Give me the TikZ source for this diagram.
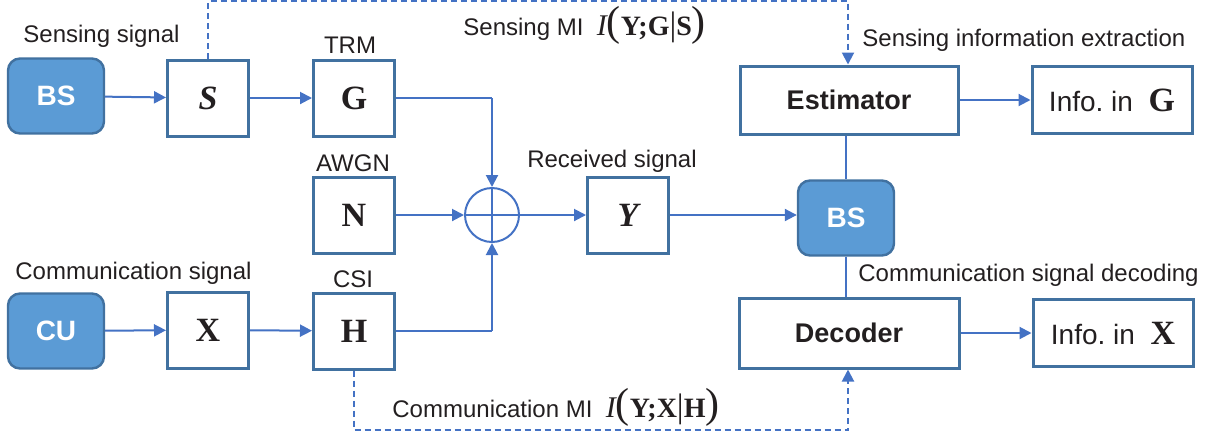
\documentclass[tikz,border=0pt]{standalone}
\usepackage{fontspec}
\setmainfont{Liberation Sans}
\newfontfamily\serif{Liberation Serif}
\usetikzlibrary{arrows.meta,shapes.geometric}
\definecolor{boxc}{RGB}{65,113,160}
\definecolor{linec}{RGB}{68,114,196}
\definecolor{fillc}{RGB}{91,155,213}
\definecolor{txt}{RGB}{35,31,32}
\newcommand{\bigp}[1]{{\fontsize{21}{21}\selectfont #1}}
\begin{document}
\begin{tikzpicture}[x=0.5pt,y=-0.5pt,
  every node/.style={text=txt},
  sbox/.style={draw=boxc,line width=1.5pt,fill=white,minimum width=40.5pt,minimum height=38pt,inner sep=0pt,font=\serif\bfseries\fontsize{17}{17}\selectfont},
  wbox/.style={draw=boxc,line width=1.5pt,fill=white,minimum width=109pt,minimum height=34pt,inner sep=0pt,font=\bfseries\fontsize{13.5}{15}\selectfont},
  ibox/.style={draw=boxc,line width=1.5pt,fill=white,minimum width=80pt,minimum height=33.5pt,inner sep=0pt,font=\fontsize{14}{16}\selectfont},
  ubox/.style={draw=boxc,line width=1.2pt,fill=fillc,rounded corners=6pt,minimum width=48pt,minimum height=37.5pt,inner sep=0pt,text=white,font=\bfseries\fontsize{14}{16}\selectfont},
  lbl/.style={font=\fontsize{12}{14}\selectfont,inner sep=0pt},
  arr/.style={draw=linec,line width=1pt,-{Triangle[length=6pt,width=6pt]}},
  ln/.style={draw=linec,line width=1pt},
  darr/.style={draw=linec,line width=1pt,dash pattern=on 3pt off 2pt,-{Triangle[length=6pt,width=6pt]}}
]
\useasboundingbox (0,0) rectangle (1214,435);
% nodes
\node[ubox] (bsL) at (56,96) {BS};
\node[sbox] (S) at (208,98) {\itshape S};
\node[sbox] (G) at (354,98) {G};
\node[sbox] (N) at (354,215) {N};
\node[ubox] (CU) at (56,331) {CU};
\node[sbox] (X) at (208,330) {X};
\node[sbox] (H) at (354,331) {H};
\node[draw=linec,line width=1pt,circle,minimum size=27pt,inner sep=0pt] (sum) at (492,215) {};
\node[sbox] (Y) at (628,215) {\itshape Y};
\node[ubox] (bsR) at (846,218) {BS};
\node[wbox] (est) at (849,100) {Estimator};
\node[ibox] (ig) at (1112,100) {Info.\ in\ \ {\serif\bfseries\fontsize{17}{17}\selectfont G}};
\node[wbox,minimum width=110pt,minimum height=35pt] (dec) at (849,333) {Decoder};
\node[ibox] (ix) at (1113,333) {Info.\ in\ \ {\serif\bfseries\fontsize{17}{17}\selectfont X}};
% labels
\node[lbl,anchor=west] (l1) at (23,36) {Sensing signal};
\node[lbl] (l2) at (350,45) {TRM};
\node[lbl] (l3) at (353,163) {AWGN};
\node[lbl] (l4) at (353,279) {CSI};
\node[lbl,anchor=west] (l5) at (15,273) {Communication signal};
\node[lbl] (l6) at (612,161) {Received signal};
\node[lbl,anchor=west] (l7) at (862,40) {Sensing information extraction};
\node[lbl,anchor=west] (l8) at (858,275) {Communication signal decoding};
\node[lbl,anchor=west] (l9) at (463,25) {Sensing MI\ \ {\serif\itshape\fontsize{15}{15}\selectfont I}\bigp{\serif(}{\serif\bfseries\fontsize{14}{14}\selectfont Y;G}{\serif\fontsize{17}{17}\selectfont|}{\serif\bfseries\fontsize{14}{14}\selectfont S}\bigp{\serif)}};
\node[lbl,anchor=west] (l10) at (392,407) {Communication MI\ \ {\serif\itshape\fontsize{15}{15}\selectfont I}\bigp{\serif(}{\serif\bfseries\fontsize{14}{14}\selectfont Y;X}{\serif\fontsize{17}{17}\selectfont|}{\serif\bfseries\fontsize{14}{14}\selectfont H}\bigp{\serif)}};
% coordinates
\coordinate (gt) at (492,98);
\coordinate (ht) at (492,331);
\coordinate (d1) at (208,1);
\coordinate (d2) at (848,1);
\coordinate (d3) at (354,430);
\coordinate (d4) at (848,430);
% connectors
\draw[arr] (bsL) -- (S);
\draw[arr] (S) -- (G);
\draw[arr] (CU) -- (X);
\draw[arr] (X) -- (H);
\draw[ln] (G.east) -- (gt);
\draw[arr] (gt) -- (sum.north);
\draw[ln] (H.east |- ht) -- (ht);
\draw[arr] (ht) -- (sum.south);
\draw[arr] (N) -- (sum.west);
\draw[ln] (sum.north) -- (sum.south);
\draw[ln] (sum.west) -- (sum.east);
\draw[arr] (sum) -- (Y);
\draw[arr] (Y.east) -- (bsR.west |- Y.east);
\draw[ln] (est.south -| bsR.north) -- (bsR.north);
\draw[ln] (bsR.south) -- (dec.north -| bsR.south);
\draw[arr] (est) -- (ig);
\draw[arr] (dec) -- (ix);
\draw[darr] (S.north) -- (d1) -- (d2) -- (est.north -| d2);
\draw[darr] (H.south) -- (d3) -- (d4) -- (dec.south -| d4);
\end{tikzpicture}
\end{document}
